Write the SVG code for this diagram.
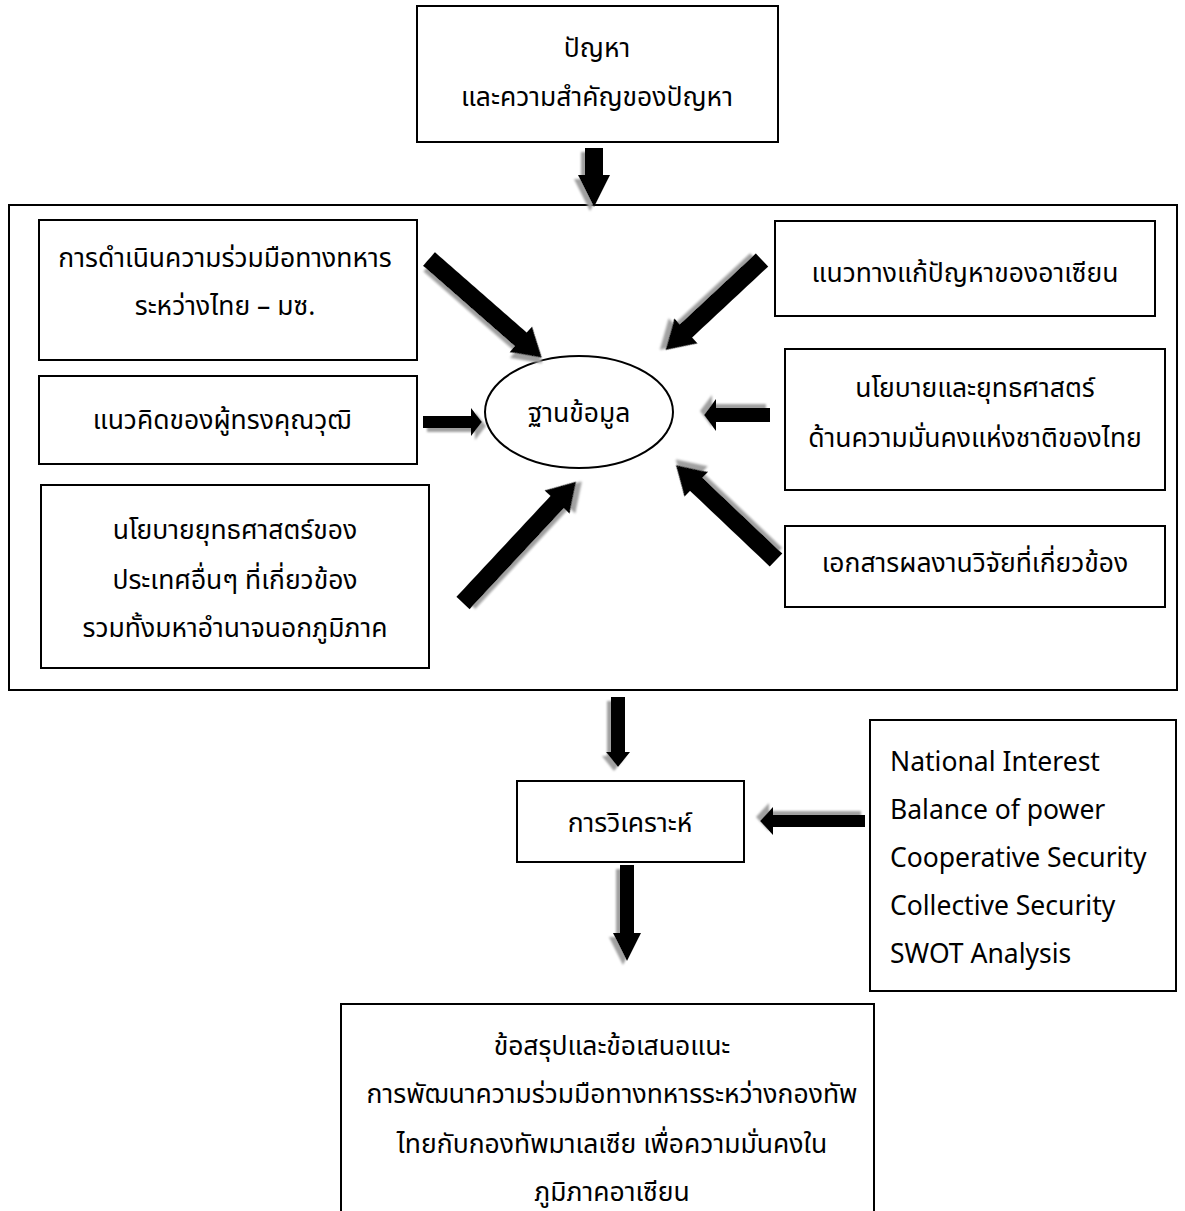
<svg xmlns="http://www.w3.org/2000/svg" width="1185" height="1211" viewBox="0 0 1185 1211">
<defs>
<style>
.box{fill:#fff;stroke:#000;stroke-width:2}
.t{font-family:"Noto Sans Thai","Leelawadee UI","Noto Sans",sans-serif;font-size:26.5px;fill:#000;text-anchor:middle}
.tl{font-family:"Noto Sans Thai","Leelawadee UI","Noto Sans",sans-serif;font-size:26.5px;fill:#000;text-anchor:start}
.arr{fill:#000;filter:url(#sh)}
</style>
<filter id="sh" x="-20%" y="-20%" width="160%" height="160%">
<feDropShadow dx="4" dy="4" stdDeviation="0.8" flood-color="#a0a0a0" flood-opacity="1"/>
</filter>
</defs>
<rect width="1185" height="1211" fill="#fff"/>

<g id="problem">
<rect class="box" x="417" y="6" width="361" height="136"/>
<text class="t" x="597" y="57">ปัญหา</text>
<text class="t" x="597" y="106">และความสำคัญของปัญหา</text>
</g>

<g id="database-frame">
<rect class="box" x="9" y="205" width="1168" height="485"/>
</g>

<g id="coop">
<rect class="box" x="39" y="220" width="378" height="140"/>
<text class="t" x="225" y="267">การดำเนินความร่วมมือทางทหาร</text>
<text class="t" x="225" y="315">ระหว่างไทย – มซ.</text>
</g>

<g id="experts">
<rect class="box" x="39" y="376" width="378" height="88"/>
<text class="t" x="222" y="429">แนวคิดของผู้ทรงคุณวุฒิ</text>
</g>

<g id="foreign-policy">
<rect class="box" x="41" y="485" width="388" height="183"/>
<text class="t" x="235" y="539">นโยบายยุทธศาสตร์ของ</text>
<text class="t" x="235" y="589">ประเทศอื่นๆ ที่เกี่ยวข้อง</text>
<text class="t" x="235" y="637">รวมทั้งมหาอำนาจนอกภูมิภาค</text>
</g>

<g id="asean">
<rect class="box" x="775" y="221" width="380" height="95"/>
<text class="t" x="965" y="282">แนวทางแก้ปัญหาของอาเซียน</text>
</g>

<g id="thai-policy">
<rect class="box" x="785" y="349" width="380" height="141"/>
<text class="t" x="975" y="397">นโยบายและยุทธศาสตร์</text>
<text class="t" x="975" y="447">ด้านความมั่นคงแห่งชาติของไทย</text>
</g>

<g id="research">
<rect class="box" x="785" y="526" width="380" height="81"/>
<text class="t" x="975" y="572">เอกสารผลงานวิจัยที่เกี่ยวข้อง</text>
</g>

<g id="database">
<ellipse cx="579" cy="412" rx="94" ry="56" fill="#fff" stroke="#000" stroke-width="2"/>
<text class="t" x="579" y="422">ฐานข้อมูล</text>
</g>

<g id="analysis">
<rect class="box" x="517" y="781" width="227" height="81"/>
<text class="t" x="630" y="832">การวิเคราะห์</text>
</g>

<g id="theories">
<rect class="box" x="870" y="720" width="306" height="271"/>
<text class="tl" x="890" y="771">National Interest</text>
<text class="tl" x="890" y="819">Balance of power</text>
<text class="tl" x="890" y="867">Cooperative Security</text>
<text class="tl" x="890" y="915">Collective Security</text>
<text class="tl" x="890" y="963">SWOT Analysis</text>
</g>

<g id="conclusion">
<rect class="box" x="341" y="1004" width="533" height="215"/>
<text class="t" x="612" y="1055">ข้อสรุปและข้อเสนอแนะ</text>
<text class="t" x="612" y="1103">การพัฒนาความร่วมมือทางทหารระหว่างกองทัพ</text>
<text class="t" x="612" y="1153">ไทยกับกองทัพมาเลเซีย เพื่อความมั่นคงใน</text>
<text class="t" x="612" y="1201">ภูมิภาคอาเซียน</text>
</g>

<g id="connectors">
<polygon class="arr" transform="translate(594,148) rotate(90)" points="0,-9 27,-9 27,-16 59,0 27,16 27,9 0,9"/>
<polygon class="arr" transform="translate(429,259) rotate(41.2)" points="0,-9 122,-9 122,-17 150,0 122,17 122,9 0,9"/>
<polygon class="arr" transform="translate(423,422) rotate(0)" points="0,-6 48,-6 48,-14 59,0 48,14 48,6 0,6"/>
<polygon class="arr" transform="translate(463,603) rotate(-47)" points="0,-9 138,-9 138,-17 166,0 138,17 138,9 0,9"/>
<polygon class="arr" transform="translate(762,260) rotate(137)" points="0,-9 104,-9 104,-17 132,0 104,17 104,9 0,9"/>
<polygon class="arr" transform="translate(770,415) rotate(180)" points="0,-7 54,-7 54,-16 66,0 54,16 54,7 0,7"/>
<polygon class="arr" transform="translate(776,560) rotate(-136.5)" points="0,-9 110,-9 110,-17 138,0 110,17 110,9 0,9"/>
<polygon class="arr" transform="translate(618,697) rotate(90)" points="0,-7 55,-7 55,-12 70,0 55,12 55,7 0,7"/>
<polygon class="arr" transform="translate(865,821) rotate(180)" points="0,-6 92,-6 92,-14 105,0 92,14 92,6 0,6"/>
<polygon class="arr" transform="translate(627,865) rotate(90)" points="0,-7 68,-7 68,-14 96,0 68,14 68,7 0,7"/>
</g>
</svg>
